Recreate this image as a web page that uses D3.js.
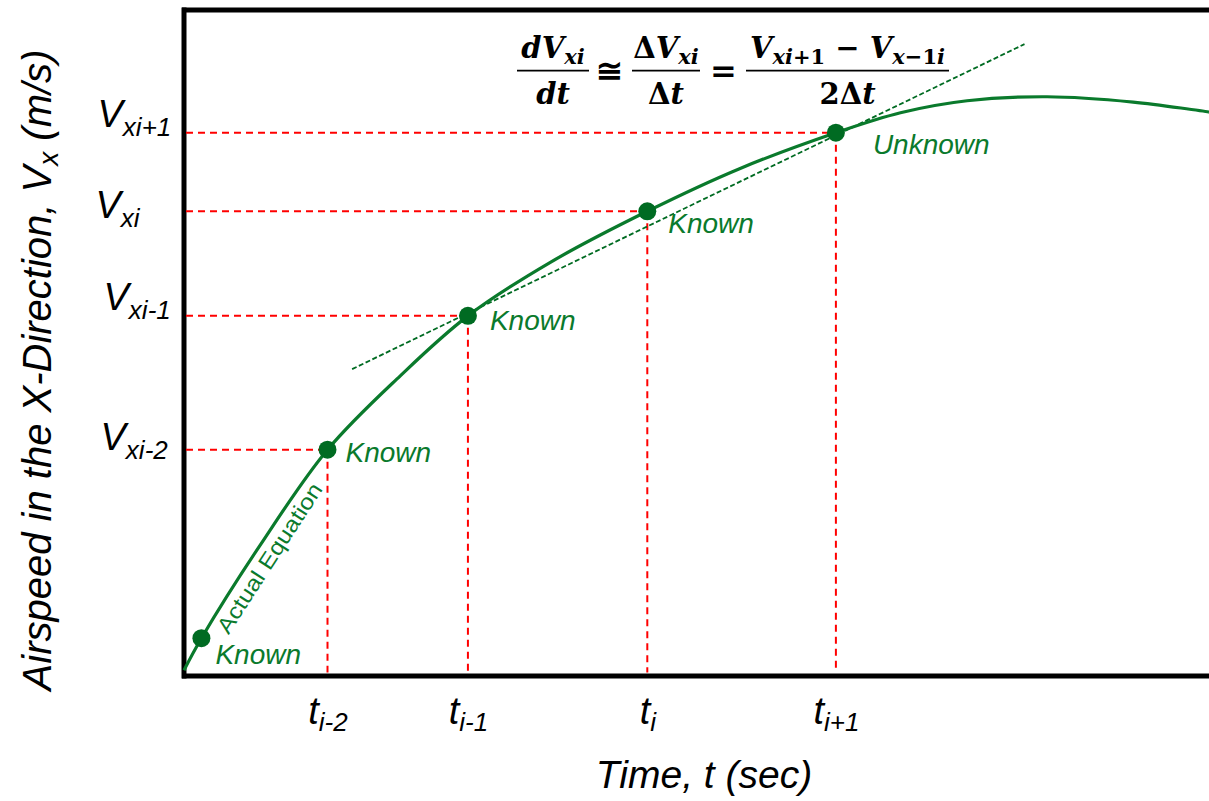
<!DOCTYPE html>
<html lang="en">
<head>
<meta charset="UTF-8" />
<title>Central difference</title>
<style>
  body { margin: 0; background: #fff; }
  svg { display: block; }
  .lbl { font-family: "Liberation Sans", Arial, sans-serif; font-style: italic; }
  .eq { font-family: "DejaVu Serif", serif; font-weight: bold; }
</style>
</head>
<body>
<div id="chart"></div>
<script src="https://cdn.jsdelivr.net/npm/d3@7/dist/d3.min.js"></script>
<script>
// curve samples
var curveT = [0, 0.17, 0.74, 1.40, 2.11, 2.77, 3.57, 4.52, 5.42, 6.36, 6.99, 7.64, 8.42, 9.26, 10.0];
var curveV = [0.08, 0.56, 1.95, 3.39, 4.50, 5.40, 6.20, 6.97, 7.61, 8.15, 8.45, 8.63, 8.69, 8.61, 8.46];

// marked points on the curve
var pointT = [0.17, 1.40, 2.77, 4.52, 6.36];
var pointV = [0.56, 3.39, 5.40, 6.97, 8.15];
var pointNames = ["Known", "Known", "Known", "Known", "Unknown"];

// dashed tangent (central difference) line ends
var tangentT = [1.64, 8.20];
var tangentV = [4.60, 9.48];

// tick labels (letter + subscript), one per guided point
var xTickSubs = ["i-2", "i-1", "i", "i+1"];
var yTickSubs = ["xi-2", "xi-1", "xi", "xi+1"];

// layout tweaks (pixels)
var nameOffsets = [[14, 26], [18, 12], [22, 14], [21, 22], [37, 21]];
var yLabelOffsets = [[3, 0], [6, -6], [-2, 6], [0, -6]];

var width = 1209, height = 801;
var green = "#0a7a2c", dotGreen = "#006b22", red = "#ff0000";

var svg = d3.select("#chart").append("svg")
  .attr("width", width)
  .attr("height", height);

var x = d3.scaleLinear().domain([0, 10]).range([184, 1209]);
var y = d3.scaleLinear().domain([0, 10]).range([675.5, 9.5]);

var curve = curveT.map(function(t, i) { return {t: t, v: curveV[i]}; });
var points = pointT.map(function(t, i) { return {t: t, v: pointV[i], name: pointNames[i]}; });
var guided = points.slice(1);

// frame: left, bottom, top
var xAxis = d3.axisBottom(x).tickValues(guided.map(function(d) { return d.t; }))
  .tickSize(0).tickSizeOuter(0).tickFormat("");
var yAxis = d3.axisLeft(y).tickValues(guided.map(function(d) { return d.v; }))
  .tickSize(0).tickSizeOuter(0).tickFormat("");

var gx = svg.append("g").attr("transform", "translate(0," + y(0) + ")").call(xAxis);
var gy = svg.append("g").attr("transform", "translate(" + 183.5 + ",0)").call(yAxis);
svg.append("g").attr("transform", "translate(0," + y(10) + ")")
  .call(d3.axisTop(x).tickValues([]).tickSizeOuter(0));

svg.selectAll(".domain")
  .attr("stroke", "#000")
  .attr("stroke-width", 5)
  .attr("stroke-linecap", "square");

// red guides
svg.selectAll(".hguide").data(guided).enter().append("line")
  .attr("x1", 186).attr("x2", function(d) { return x(d.t); })
  .attr("y1", function(d) { return y(d.v); }).attr("y2", function(d) { return y(d.v); })
  .attr("stroke", red).attr("stroke-width", 2).attr("stroke-dasharray", "7,5");
svg.selectAll(".vguide").data(guided).enter().append("line")
  .attr("x1", function(d) { return x(d.t); }).attr("x2", function(d) { return x(d.t); })
  .attr("y1", function(d) { return y(d.v); }).attr("y2", y(0) - 3)
  .attr("stroke", red).attr("stroke-width", 2).attr("stroke-dasharray", "7,5");

// tangent
svg.append("line")
  .attr("x1", x(tangentT[0])).attr("y1", y(tangentV[0]))
  .attr("x2", x(tangentT[1])).attr("y2", y(tangentV[1]))
  .attr("stroke", dotGreen).attr("stroke-width", 1.8).attr("stroke-dasharray", "5,2.5");

// curve
var line = d3.line()
  .x(function(d) { return x(d.t); })
  .y(function(d) { return y(d.v); })
  .curve(d3.curveCatmullRom.alpha(0.5));
svg.append("path").datum(curve)
  .attr("d", line).attr("fill", "none")
  .attr("stroke", green).attr("stroke-width", 3.2);

// dots
svg.selectAll(".dot").data(points).enter().append("circle")
  .attr("cx", function(d) { return x(d.t); })
  .attr("cy", function(d) { return y(d.v); })
  .attr("r", 9).attr("fill", dotGreen);

svg.selectAll(".name").data(points).enter().append("text")
  .attr("class", "lbl")
  .attr("x", function(d, i) { return x(d.t) + nameOffsets[i][0]; })
  .attr("y", function(d, i) { return y(d.v) + nameOffsets[i][1]; })
  .attr("font-size", 28).attr("fill", green)
  .text(function(d) { return d.name; });

// "Actual Equation" along the curve
var p0 = points[0];
svg.append("text")
  .attr("transform", "translate(" + (x(p0.t) + 27) + "," + (y(p0.v) - 3) + ") rotate(-57)")
  .attr("font-family", "Liberation Sans, Arial, sans-serif")
  .attr("font-size", 22).attr("fill", green)
  .attr("textLength", 174).attr("lengthAdjust", "spacingAndGlyphs")
  .text("Actual Equation");

// x tick labels
gx.selectAll(".tick text").each(function(d, i) {
  var t = d3.select(this).text(null)
    .attr("class", "lbl").attr("y", 48).attr("dy", 0)
    .attr("fill", "#000").attr("text-anchor", "middle");
  t.append("tspan").attr("font-size", 38).text("t");
  t.append("tspan").attr("font-size", 26).attr("dy", 7).text(xTickSubs[i]);
});

// y tick labels
gy.selectAll(".tick text").each(function(d, i) {
  var t = d3.select(this).text(null)
    .attr("class", "lbl").attr("x", -86 + yLabelOffsets[i][0])
    .attr("dy", 0).attr("y", yLabelOffsets[i][1])
    .attr("fill", "#000").attr("text-anchor", "start");
  t.append("tspan").attr("font-size", 38).text("V");
  t.append("tspan").attr("font-size", 26).attr("dy", 9).text(yTickSubs[i]);
});

// axis titles
svg.append("text").attr("class", "lbl")
  .attr("x", 704).attr("y", 788)
  .attr("text-anchor", "middle").attr("font-size", 39)
  .text("Time, t (sec)");

var yt = svg.append("text").attr("class", "lbl")
  .attr("transform", "translate(51,370) rotate(-90)")
  .attr("text-anchor", "middle").attr("font-size", 40);
yt.append("tspan").text("Airspeed in the X-Direction, V");
yt.append("tspan").attr("font-size", 28).attr("dy", 7).text("x");
yt.append("tspan").attr("dy", -7).text(" (m/s)");

// equation: runs of [text, italic?, subscript?]
var eqFracs = [
  {num: [["d", 1, 0], ["V", 1, 0], ["xi", 1, 1]], den: [["dt", 1, 0]]},
  {num: [["\u0394", 0, 0], ["V", 1, 0], ["xi", 1, 1]], den: [["\u0394", 0, 0], ["t", 1, 0]]},
  {num: [["V", 1, 0], ["xi", 1, 1], ["+1", 0, 1], [" \u2212 ", 0, 0], ["V", 1, 0], ["x", 1, 1], ["\u22121", 0, 1], ["i", 1, 1]],
   den: [["2\u0394", 0, 0], ["t", 1, 0]]}
];
var eqSymbols = ["\u2245", "="];
var fracCenters = [553, 666, 847.5], fracHalf = [36, 34, 101.5], symCenters = [609.5, 723.5];

function runs(cx, base, list) {
  var t = svg.append("text").attr("class", "eq").attr("x", cx).attr("y", base)
    .attr("text-anchor", "middle").attr("fill", "#000");
  var low = 0;
  list.forEach(function(r) {
    var shift = (r[2] ? 6 : 0) - low;
    low = r[2] ? 6 : 0;
    t.append("tspan").attr("font-size", r[2] ? 21 : 29)
      .attr("font-style", r[1] ? "italic" : "normal")
      .attr("dy", shift).text(r[0]);
  });
}
eqFracs.forEach(function(f, i) {
  runs(fracCenters[i], 58, f.num);
  runs(fracCenters[i], 104, f.den);
  svg.append("line")
    .attr("x1", fracCenters[i] - fracHalf[i]).attr("x2", fracCenters[i] + fracHalf[i])
    .attr("y1", 70.7).attr("y2", 70.7).attr("stroke", "#000").attr("stroke-width", 1.8);
});
eqSymbols.forEach(function(s, i) {
  svg.append("text").attr("class", "eq").attr("x", symCenters[i]).attr("y", 82)
    .attr("text-anchor", "middle").attr("font-size", 32).attr("font-weight", "normal").text(s);
});
</script>
</body>
</html>
